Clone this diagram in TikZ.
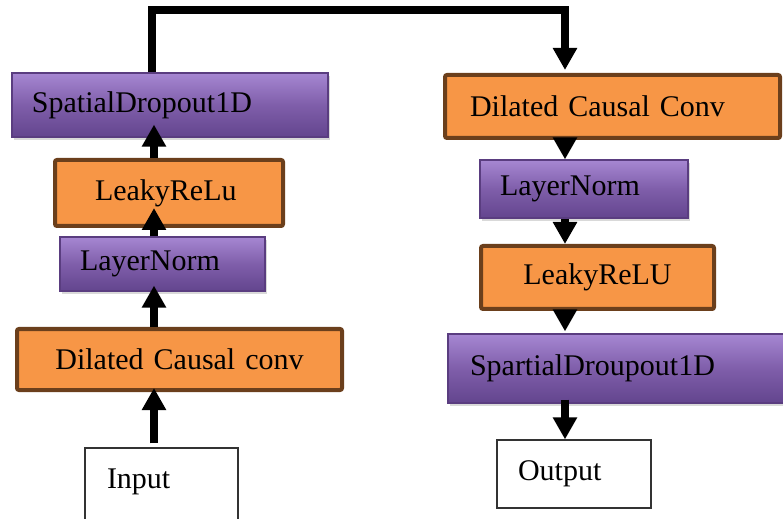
\documentclass[tikz,border=0pt]{standalone}
\usepackage{fontspec}
\setmainfont{Liberation Serif}
\usetikzlibrary{positioning, calc, arrows.meta, shadows}
\definecolor{purpTop}{HTML}{A687D2}
\definecolor{purpMid}{HTML}{7F5EAA}
\definecolor{purpBot}{HTML}{63458E}
\definecolor{purpLine}{HTML}{5A3D80}
\definecolor{orFill}{HTML}{F79646}
\definecolor{orLine}{HTML}{6B3F1C}
\tikzset{boxfont/.style={font=\fontsize{15}{18}\selectfont}}
\tikzset{pbox/.style={rectangle, boxfont, align=left, draw=purpLine, line width=0.6pt, top color=purpTop, bottom color=purpBot, middle color=purpMid, drop shadow={opacity=0.3, shadow xshift=1.2pt, shadow yshift=-1.5pt}}}
\tikzset{obox/.style={rectangle, boxfont, align=left, draw=orLine, line width=2pt, fill=orFill, rounded corners=1pt}}
\tikzset{wbox/.style={rectangle, boxfont, align=left, draw=black!80, line width=0.6pt, fill=white}}
\tikzset{arr/.style={draw, line width=4pt, -{Triangle[width=11.5pt, length=11pt]}}}

\begin{document}
\begin{tikzpicture}[x=0.5pt, y=-0.5pt]
				\useasboundingbox (0,0) rectangle (783,519);
				\coordinate (lx) at (154,0);
				\coordinate (rx) at (565,0);
				\coordinate (tx) at (152,0);
				\coordinate (tp) at (565,10);
				%
				% encoder side
				\node[pbox, text width=138pt, inner xsep=10pt, minimum height=32pt] (sd) at (170,105) {SpatialDropout1D};
				\node[obox, text width=74pt, inner xsep=20pt, minimum height=33pt] (lr) at (169,193) {LeakyReLu};
				\node[pbox, text width=82.5pt, inner xsep=10pt, minimum height=27pt] (ln) at (162.5,264) {LayerNorm};
				\node[obox, text width=142.5pt, inner xsep=10pt, minimum height=30.5pt, align=center] (dc) at (179.5,359.5) {Dilated Causal conv};
				\node[wbox, text width=54.5pt, inner xsep=11pt, minimum height=40pt, text height=10.5pt, text depth=10.5pt] (in) at (161.5,488) {Input};
				%
				% decoder side
				\node[obox, text width=142.5pt, inner xsep=12.5pt, minimum height=31.5pt] (dcr) at (612.5,106.5) {Dilated Causal Conv};
				\node[pbox, text width=84pt, inner xsep=10pt, minimum height=29pt] (lnr) at (584,189) {LayerNorm};
				\node[obox, text width=96.5pt, inner xsep=10pt, minimum height=31.5pt, align=center] (lrr) at (597.5,277.5) {LeakyReLU};
				\node[pbox, text width=154pt, inner xsep=11pt, minimum height=34.5pt] (sdr) at (624,368.5) {SpartialDroupout1D};
				\node[wbox, text width=56pt, inner xsep=10.5pt, minimum height=34pt] (out) at (574,474) {Output};
				%
				\draw[arr, shorten <=2pt, shorten >=-2pt] (in.north -| lx) -- (dc.south -| lx);
				\draw[arr, shorten >=-3pt] (dc.north -| lx) -- (ln.south -| lx);
				\draw[arr, shorten >=-10pt] (ln.north -| lx) -- (lr.south -| lx);
				\draw[arr, shorten >=-6.5pt] (lr.north -| lx) -- (sd.south -| lx);
				\draw[arr, shorten >=1.5pt] (sd.north -| tx) |- (tp) -- (dcr.north -| rx);
				%
				\draw[arr, shorten <=-5pt] (dcr.south -| rx) -- (lnr.north -| rx);
				\draw[arr] (lnr.south -| rx) -- (lrr.north -| rx);
				\draw[arr, shorten <=-6pt, shorten >=1pt] (lrr.south -| rx) -- (sdr.north -| rx);
				\draw[arr, shorten <=-2pt] (sdr.south -| rx) -- (out.north -| rx);
			\end{tikzpicture}
\end{document}
